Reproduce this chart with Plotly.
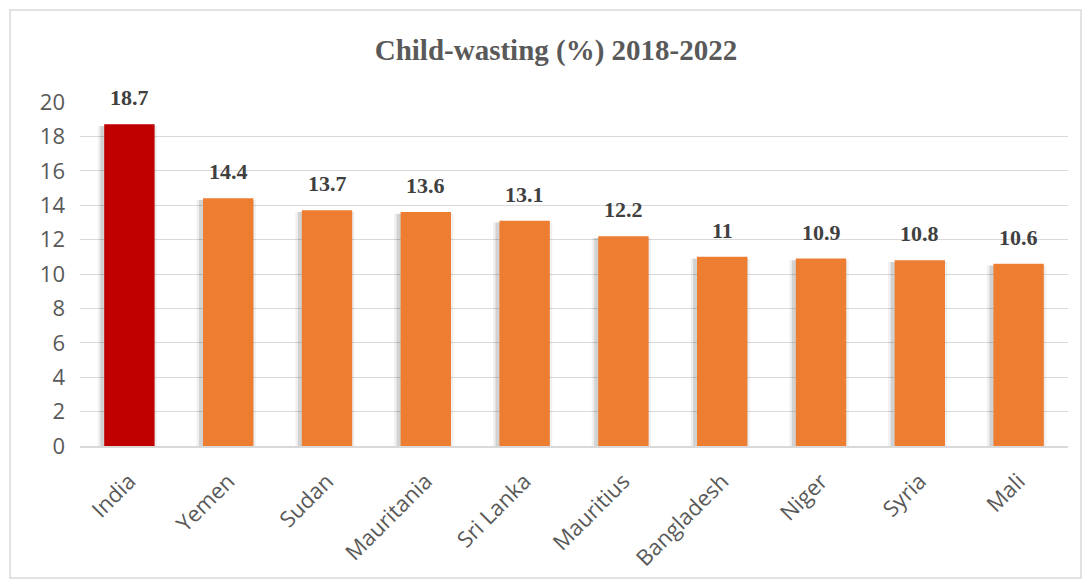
import plotly.graph_objects as go

countries = ["India", "Yemen", "Sudan", "Mauritania", "Sri Lanka", "Mauritius",
             "Bangladesh", "Niger", "Syria", "Mali"]
values = [18.7, 14.4, 13.7, 13.6, 13.1, 12.2, 11, 10.9, 10.8, 10.6]
labels = ["18.7", "14.4", "13.7", "13.6", "13.1", "12.2", "11", "10.9", "10.8", "10.6"]
y_ticks = [0, 2, 4, 6, 8, 10, 12, 14, 16, 18, 20]

colors = ["#C00000"] + ["#ED7D31"] * (len(countries) - 1)

W, H = 1091, 588
L, R, T, B = 80, 23, 102, 142
pw, ph = W - L - R, H - T - B

def px_x(p):
    return (p - L) / pw

def px_y(p):
    return (H - B - p) / ph

fig = go.Figure()

# soft shadow behind bars
fig.add_trace(go.Bar(
    x=countries, y=[v + 0.15 for v in values], base=-0.25,
    width=0.6, offset=-0.32,
    marker=dict(color="rgba(0,0,0,0.06)", line=dict(width=0)),
    hoverinfo="skip", showlegend=False,
))
fig.add_trace(go.Bar(
    x=countries, y=[v + 0.05 for v in values], base=-0.15,
    width=0.55, offset=-0.295,
    marker=dict(color="rgba(0,0,0,0.12)", line=dict(width=0)),
    hoverinfo="skip", showlegend=False,
))
fig.add_trace(go.Bar(
    x=countries, y=values, width=0.51, offset=-0.255,
    marker=dict(color=colors, line=dict(width=0)),
    showlegend=False,
))

for c, v, t in zip(countries, values, labels):
    fig.add_annotation(
        x=c, y=v, text="<b>" + t + "</b>", showarrow=False, yanchor="bottom", yshift=12,
        font=dict(family="Liberation Serif", size=22, color="#404040"),
    )

fig.add_shape(
    type="rect", xref="paper", yref="paper",
    x0=px_x(10), x1=px_x(1081), y0=px_y(578), y1=px_y(10),
    line=dict(color="#D9D9D9", width=1.5), fillcolor="rgba(0,0,0,0)", layer="below",
)

fig.update_layout(
    width=W, height=H,
    margin=dict(l=L, r=R, t=T, b=B),
    barmode="overlay",
    paper_bgcolor="white", plot_bgcolor="white",
    title=dict(
        text="<b>Child-wasting (%) 2018-2022</b>",
        x=px_x(556), xref="paper", xanchor="center",
        y=1 - 50 / H, yref="container", yanchor="middle",
        font=dict(family="Liberation Serif", size=29, color="#595959"),
    ),
    xaxis=dict(
        tickangle=-45, showgrid=False, showline=True, linecolor="#D9D9D9",
        linewidth=1.5, ticks="", ticklabelstandoff=12,
        tickfont=dict(family="Open Sans", size=22, color="#595959"),
    ),
    yaxis=dict(
        range=[0, 20], tickvals=y_ticks, showgrid=True, gridcolor="#D9D9D9",
        gridwidth=1.2, zeroline=False, ticks="", ticklabelstandoff=14,
        tickfont=dict(family="Open Sans", size=22, color="#595959"),
    ),
)

fig.write_html("out.html")
